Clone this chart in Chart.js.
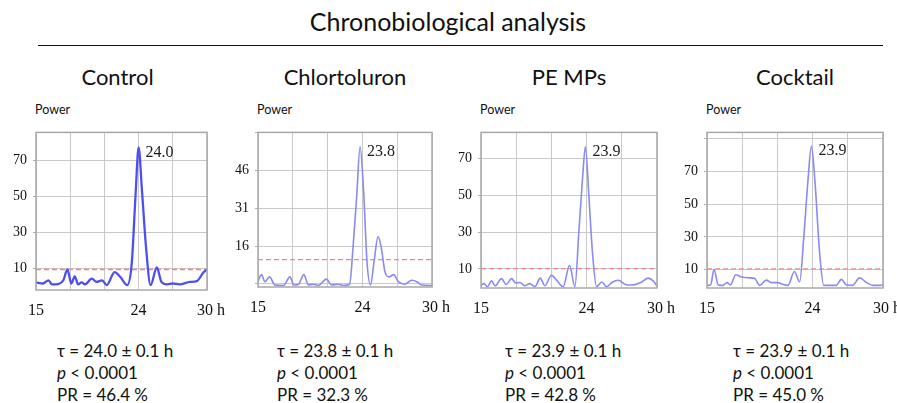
<!DOCTYPE html>
<html>
<head>
<meta charset="utf-8">
<script src="https://cdn.jsdelivr.net/npm/chart.js@4.4.0/dist/chart.umd.min.js"></script>
<style>
  html, body { margin: 0; padding: 0; background: #fff; }
  body { width: 897px; height: 403px; position: relative; overflow: hidden;
         font-family: Lato, "Open Sans", "Noto Sans", sans-serif; color: #111; }
  .t { position: absolute; white-space: nowrap; }
  #title { left: 448px; top: 6px; font-size: 25px; line-height: 30px; transform: translateX(-50%); }
  #rule { position: absolute; left: 38px; top: 45px; width: 845px; height: 0; border-top: 1.6px solid #111; }
  .group { font-size: 22px; line-height: 26px; transform: translateX(-50%); top: 64px; }
  .power { font-size: 12.5px; line-height: 16px; top: 102px; }
  .stats { font-size: 17px; line-height: 22px; top: 340px; }
  .stats i { font-style: italic; }
  canvas { position: absolute; }
</style>
</head>
<body>
<div id="title" class="t">Chronobiological analysis</div>
<div id="rule"></div>
<div id="labels"></div>

<script>
// Treatment groups
const groups = ['Control', 'Chlortoluron', 'PE MPs', 'Cocktail'];

// Periodogram curves: period (h) and power
const periods1 = [15.0, 15.6, 16.1, 16.4, 17.0, 17.4, 17.75, 18.1, 18.4, 18.7, 19.0, 19.3, 19.9, 20.3, 20.8, 21.2, 21.9, 22.4, 23.0, 23.4, 23.75, 24.0, 24.3, 24.65, 25.05, 25.6, 26.0, 26.5, 27.0, 27.6, 28.5, 29.1, 29.7, 30.0];
const power1   = [2.3, 1.7, 3.5, 1.2, 1.5, 3.5, 9.5, 1.7, 5.7, 1.2, 2.3, 1.2, 4.4, 2.6, 3.5, 0.8, 8.0, 5.3, 0.8, 13, 53, 77.4, 53, 22, 0.8, 10.7, 2.6, 1.2, 1.7, 1.2, 2.6, 3.0, 8.0, 9.5];

const periods2 = [15.0, 15.1, 15.3, 15.6, 16.0, 16.45, 17.2, 17.75, 18.1, 18.5, 18.95, 19.35, 19.75, 20.2, 20.9, 21.35, 21.9, 22.35, 22.9, 23.2, 23.5, 23.8, 24.1, 24.4, 24.7, 25.0, 25.35, 25.65, 25.95, 26.3, 26.7, 27.1, 27.65, 28.25, 28.7, 29.1, 30.0];
const power2   = [2.0, 3.2, 4.7, 1.9, 3.8, 0.6, 0.4, 3.8, 0.6, 0.9, 4.7, 0.6, 0.9, 0.4, 2.9, 0.6, 0.9, 0.4, 0.9, 16, 35, 55.3, 38, 9.6, 0.6, 9.6, 19.8, 14.7, 5.7, 3.8, 4.7, 1.9, 0.9, 2.5, 1.9, 0.6, 0.4];

const periods3 = [15.0, 15.25, 15.55, 15.9, 16.2, 16.75, 17.15, 17.6, 17.95, 18.3, 18.75, 19.15, 19.6, 20.05, 20.45, 21.0, 21.45, 22.0, 22.55, 23.0, 23.35, 23.65, 23.9, 24.2, 24.5, 24.85, 25.3, 25.7, 26.15, 26.7, 27.3, 27.85, 28.7, 29.25, 29.7, 30.0];
const power3   = [1.2, 2.0, 0.3, 3.5, 0.8, 4.7, 1.5, 4.7, 2.4, 2.6, 0.8, 2.0, 0.3, 5.0, 0.8, 6.5, 3.8, 0.3, 12, 0.3, 31, 59, 76.5, 49, 19, 0.3, 2.9, 0.3, 2.6, 3.8, 1.5, 1.2, 2.9, 5.0, 3.3, 0.8];

const periods4 = [15.0, 15.3, 15.6, 15.95, 16.35, 16.7, 17.0, 17.45, 17.95, 18.65, 19.05, 19.5, 20.05, 20.5, 21.05, 21.5, 21.9, 22.45, 22.9, 23.25, 23.6, 23.9, 24.2, 24.6, 24.95, 25.45, 26.0, 26.45, 26.9, 27.4, 28.0, 28.6, 29.15, 29.55, 30.0];
const power4   = [0.3, 0.5, 10, 0.6, 0.3, 2.0, 0.6, 6.8, 5.4, 4.9, 4.6, 0.3, 3.5, 2.0, 2.0, 0.8, 0.3, 8.8, 2.5, 30, 64, 85.5, 64, 20, 0.3, 0.3, 0.3, 4.0, 0.5, 0.3, 4.9, 2.0, 0.3, 0.3, 0.5];

// Dominant period at the periodogram peak, and significance threshold
const peakPeriods = [24.0, 23.8, 23.9, 23.9];
const thresholds  = [9.5, 10.6, 10.2, 10.4];

// Axis ticks
const xTicksLabelled = [15, 24, 30];
const yGrid1 = [10, 30, 50, 70];
const yGrid2 = [1, 16, 31, 46, 61];
const yGrid3 = [10, 30, 50, 70];
const yGrid4 = [10, 30, 50, 70, 90];
const yLabels1 = [10, 30, 50, 70];
const yLabels2 = [16, 31, 46];
const yLabels3 = [10, 30, 50, 70];
const yLabels4 = [10, 30, 50, 70];

// Rhythm statistics
const tau = ['24.0', '23.8', '23.9', '23.9'];
const tauSE = ['0.1', '0.1', '0.1', '0.1'];
const pValues = ['0.0001', '0.0001', '0.0001', '0.0001'];
const prValues = ['46.4', '32.3', '42.8', '45.0'];

const periodSets = [periods1, periods2, periods3, periods4];
const powerSets = [power1, power2, power3, power4];
const yGrids = [yGrid1, yGrid2, yGrid3, yGrid4];
const yLabelSets = [yLabels1, yLabels2, yLabels3, yLabels4];

// Plot frames (chart area in page pixels) and power ranges
const frames = [
  { l: 36,  r: 207, t: 128, b: 290, ymin: -1.9, ymax: 85.7 },
  { l: 258, r: 432, t: 128, b: 287, ymin: -0.2, ymax: 61 },
  { l: 481, r: 657, t: 128, b: 288, ymin: -0.4, ymax: 84.3 },
  { l: 707, r: 883, t: 128, b: 288, ymin: -1.3, ymax: 93.9 }
];
const lineColors = ['#4f4ff0', '#8a8af3', '#8a8af3', '#8a8af3'];
const lineWidths = [2.3, 1.6, 1.6, 1.6];
const statsLeft = [57, 277, 505, 733];

const Y_AXIS_W = 40, X_AXIS_H = 40, PAD_TOP = 10, PAD_RIGHT = 30;
const serif = '"Liberation Serif", "Times New Roman", serif';

// Frame around the plot area
const framePlugin = {
  id: 'frameBox',
  afterDraw(chart) {
    const { ctx, chartArea: a } = chart;
    ctx.save();
    ctx.strokeStyle = '#a8a8a8';
    ctx.lineWidth = 1.5;
    ctx.strokeRect(a.left, a.top, a.right - a.left, a.bottom - a.top);
    ctx.restore();
  }
};

// Period value written beside the highest point of the curve
const peakLabelPlugin = {
  id: 'peakLabel',
  afterDatasetsDraw(chart, args, opts) {
    const pts = chart.data.datasets[0].data;
    let best = pts[0];
    pts.forEach(p => { if (p.y > best.y) best = p; });
    const x = chart.scales.x.getPixelForValue(best.x);
    const y = chart.scales.y.getPixelForValue(best.y);
    const ctx = chart.ctx;
    ctx.save();
    ctx.fillStyle = '#1a1a1a';
    ctx.font = '16px ' + serif;
    ctx.textBaseline = 'middle';
    ctx.textAlign = 'left';
    ctx.fillText(opts.text, x + 7, y + 5);
    ctx.restore();
  }
};

const labelsBox = document.getElementById('labels');

groups.forEach((name, i) => {
  const f = frames[i];

  const g = document.createElement('div');
  g.className = 't group';
  g.style.left = ((f.l + f.r) / 2 + (i === 0 ? -4 : 0)) + 'px';
  g.textContent = name;
  labelsBox.appendChild(g);

  const pw = document.createElement('div');
  pw.className = 't power';
  pw.style.left = (f.l - 1) + 'px';
  pw.textContent = 'Power';
  labelsBox.appendChild(pw);

  const st = document.createElement('div');
  st.className = 't stats';
  st.style.left = statsLeft[i] + 'px';
  st.innerHTML = 'τ = ' + tau[i] + ' ± ' + tauSE[i] + ' h<br><i>p</i> &lt; ' + pValues[i] + '<br>PR = ' + prValues[i] + ' %';
  labelsBox.appendChild(st);

  const canvas = document.createElement('canvas');
  const cw = (f.r - f.l) + Y_AXIS_W + PAD_RIGHT;
  const ch = (f.b - f.t) + PAD_TOP + X_AXIS_H;
  canvas.width = cw; canvas.height = ch;
  canvas.style.width = cw + 'px'; canvas.style.height = ch + 'px';
  canvas.style.left = (f.l - Y_AXIS_W) + 'px';
  canvas.style.top = (f.t - PAD_TOP) + 'px';
  document.body.appendChild(canvas);

  const curve = periodSets[i].map((p, k) => ({ x: p, y: powerSets[i][k] }));
  const thr = [{ x: 15, y: thresholds[i] }, { x: 30, y: thresholds[i] }];
  const yGrid = yGrids[i];
  const yLab = yLabelSets[i];

  new Chart(canvas, {
    type: 'line',
    data: {
      datasets: [
        { data: curve, borderColor: lineColors[i], borderWidth: lineWidths[i],
          pointRadius: 0, cubicInterpolationMode: 'monotone', fill: false, order: 1 },
        { data: thr, borderColor: '#f08a8a', borderWidth: 1.3, borderDash: [5, 3],
          pointRadius: 0, fill: false, order: 2 }
      ]
    },
    options: {
      responsive: false,
      animation: false,
      devicePixelRatio: 1,
      layout: { padding: { top: PAD_TOP, right: PAD_RIGHT, left: 0, bottom: 0 } },
      plugins: { legend: { display: false }, tooltip: { enabled: false },
                 peakLabel: { text: peakPeriods[i].toFixed(1) } },
      scales: {
        x: {
          type: 'linear', min: 15, max: 30,
          afterFit(s) { s.height = X_AXIS_H; },
          afterBuildTicks(s) { s.ticks = [15, 18, 21, 24, 27, 30].map(v => ({ value: v })); },
          border: { display: false },
          grid: { color: '#c9c9c9', lineWidth: 1, drawTicks: false, borderDash: [2, 2] },
          ticks: {
            autoSkip: false, maxRotation: 0, padding: 11, color: '#111',
            font: { family: serif, size: 16 },
            callback: v => xTicksLabelled.includes(v) ? (v === 30 ? '\u00a0\u00a030 h' : String(v)) : ''
          }
        },
        y: {
          type: 'linear', min: f.ymin, max: f.ymax,
          afterFit(s) { s.width = Y_AXIS_W; },
          afterBuildTicks(s) { s.ticks = yGrid.map(v => ({ value: v })); },
          border: { display: false },
          grid: { color: '#c9c9c9', lineWidth: 1, tickLength: 3, tickColor: '#b0b0b0', borderDash: [2, 2] },
          ticks: {
            padding: 6, color: '#111',
            font: { family: serif, size: 14 },
            callback: v => yLab.includes(v) ? String(v) : ''
          }
        }
      }
    },
    plugins: [framePlugin, peakLabelPlugin]
  });
});
</script>
</body>
</html>
